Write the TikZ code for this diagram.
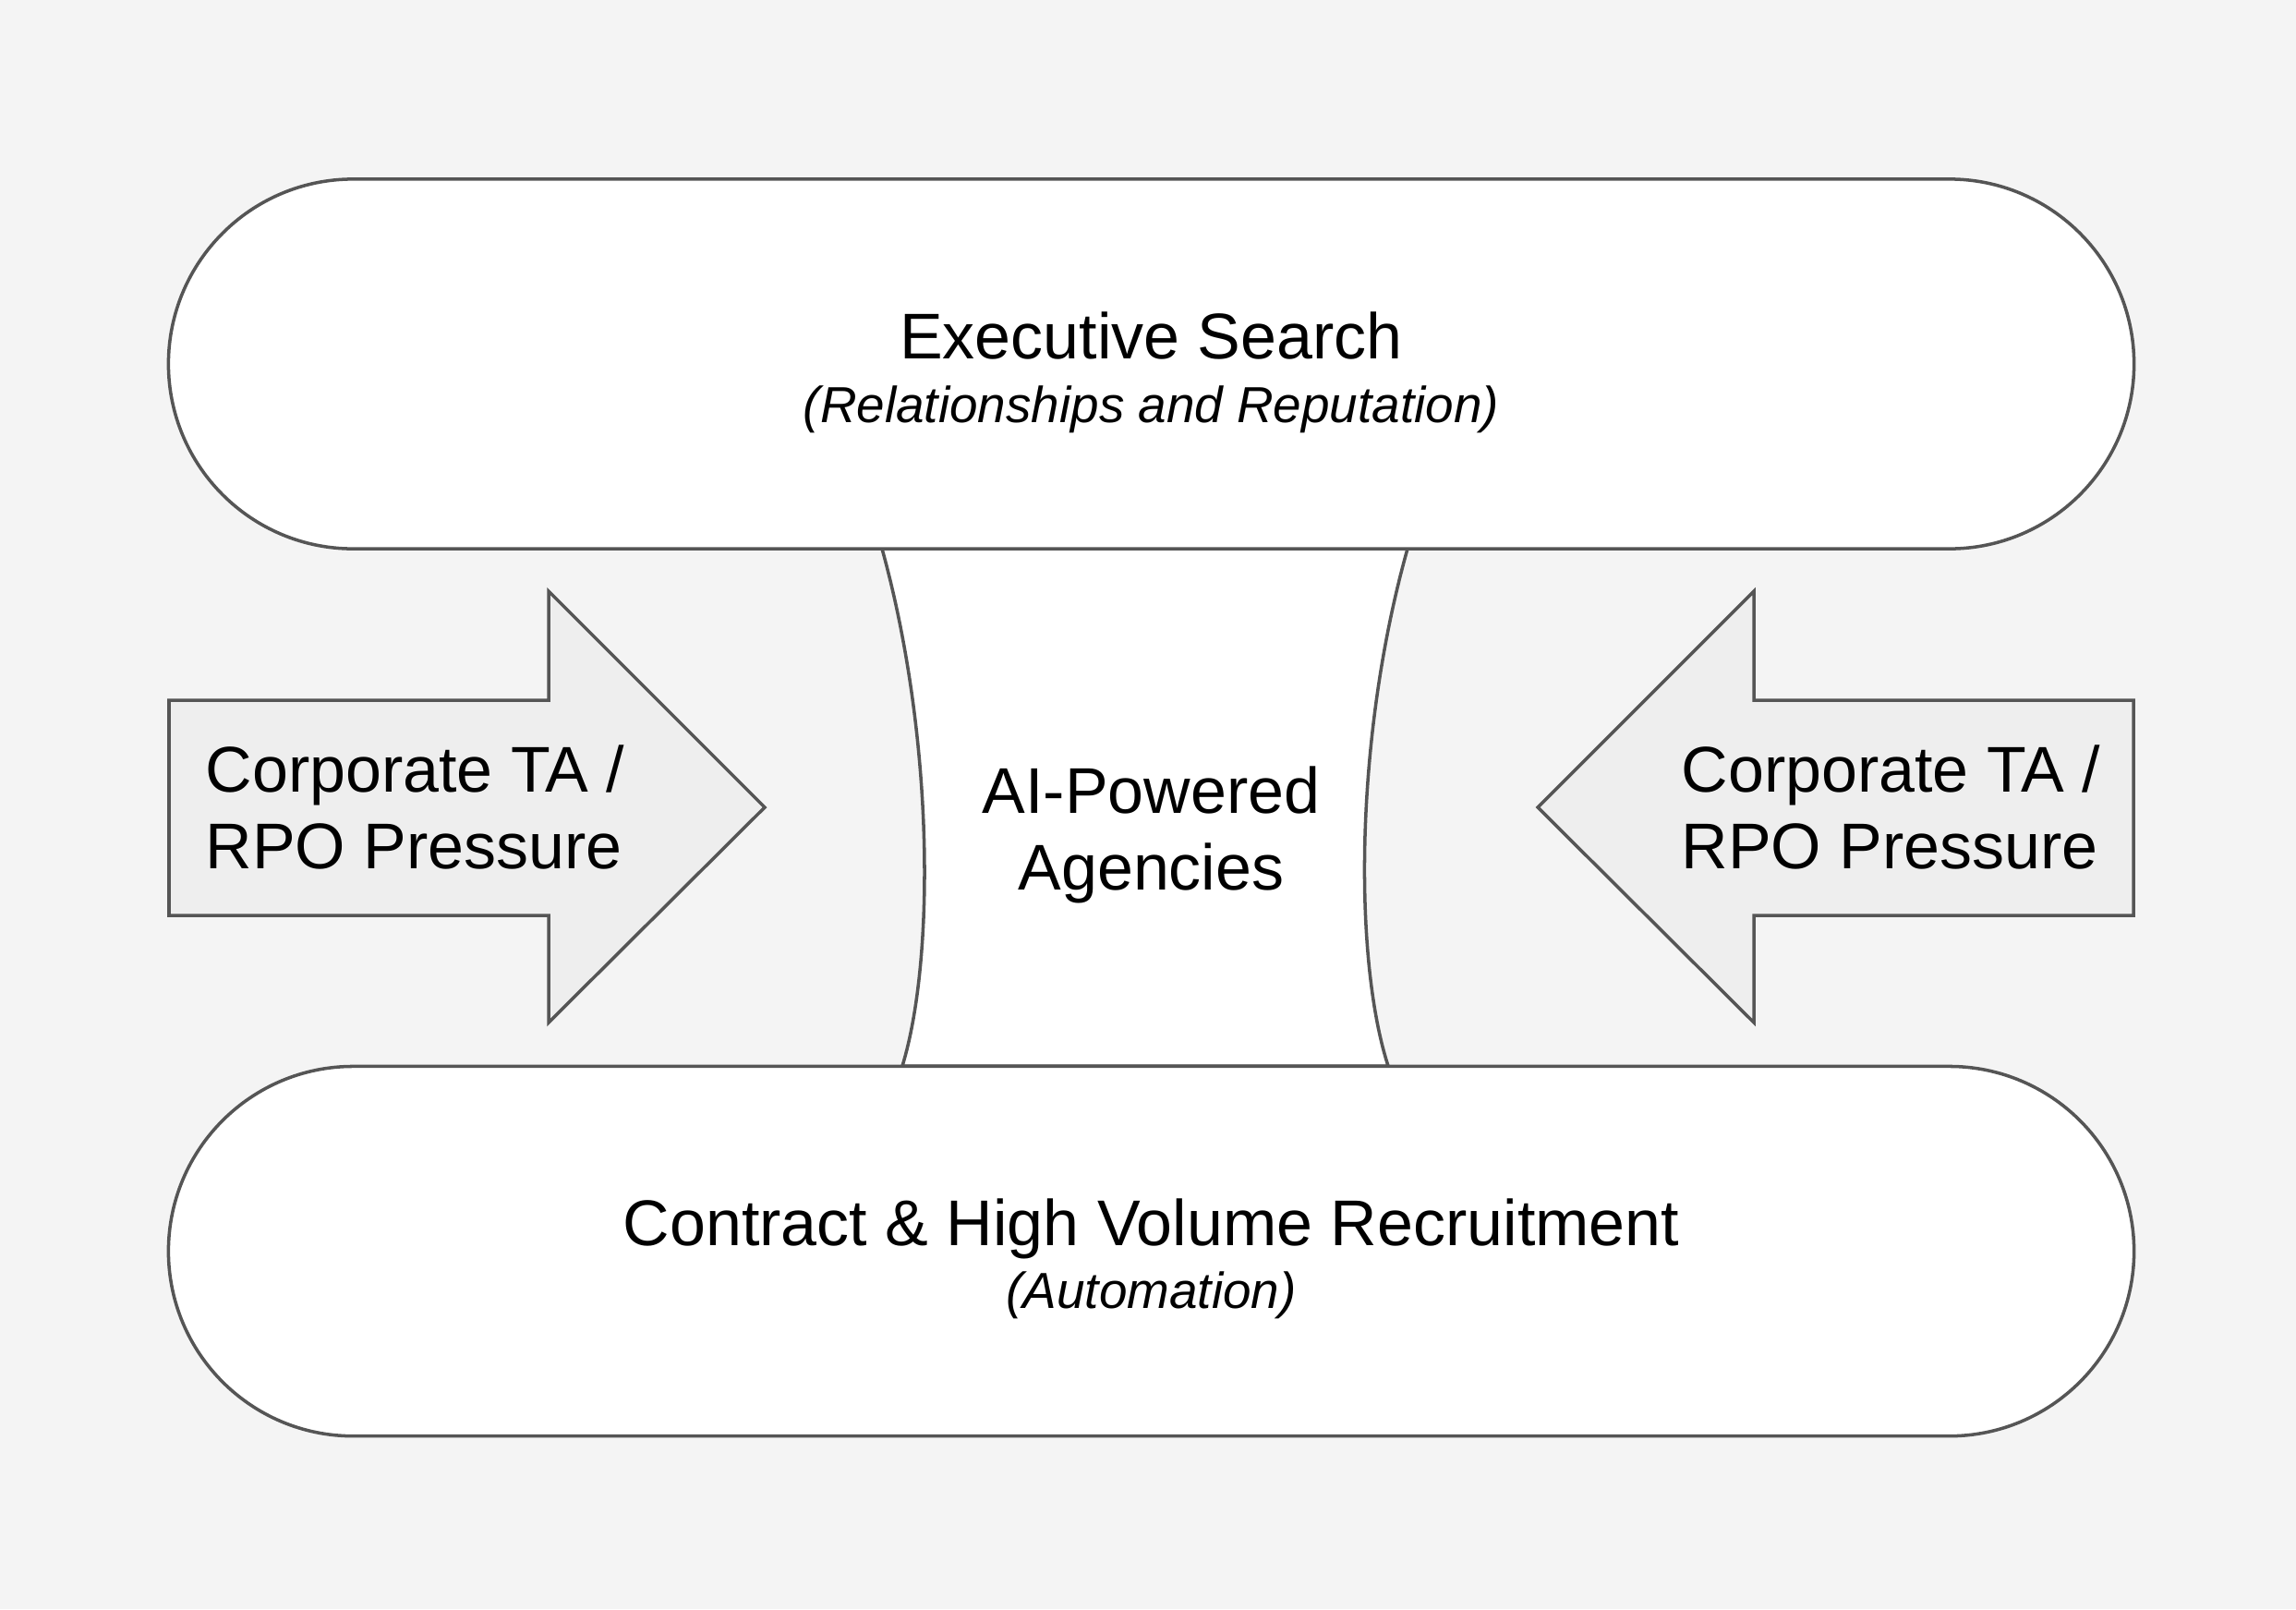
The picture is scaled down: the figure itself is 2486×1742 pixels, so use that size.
\documentclass[tikz,border=0pt]{standalone}
\usepackage{fontspec}
\setmainfont{Liberation Sans}
\usepackage{xcolor}
\usetikzlibrary{positioning}
\definecolor{bgcol}{HTML}{F4F4F4}
\definecolor{edgecol}{HTML}{555555}
\definecolor{pushfill}{HTML}{EEEEEE}
\tikzset{
  pill/.style={draw=edgecol, fill=white, line width=1pt, rounded corners=2cm,
    minimum width=21.27cm, minimum height=4cm, inner sep=0pt, outer sep=0pt},
  pushshape/.style={draw=edgecol, fill=pushfill, line width=1pt, line join=miter},
  bigtext/.style={font=\fontsize{19.9}{23.6}\selectfont},
  subtext/.style={font=\fontsize{15.6}{18.7}\selectfont\itshape},
}
\begin{document}
\begin{tikzpicture}[x=0.01cm, y=-0.01cm]

\fill[bgcol] (0,0) rectangle (2486,1742);
\useasboundingbox (0,0) rectangle (2486,1742);

% MIDDLE: squeezed band between the two pills
\draw[pushshape, fill=white]
  (955,594) .. controls (1012,800) and (1012,1040) .. (977,1154)
  -- (1503,1154) .. controls (1466,1040) and (1466,800) .. (1524,594) -- cycle;

% TOP and BOTTOM pills
\node[pill] (exec) at (1246.5,394) {};
\node[pill, below=5.6cm of exec] (volume) {};

% LEFT and RIGHT pressure arrows
\draw[pushshape]
  (183,758) -- (594,758) -- (594,640) -- (828,874)
  -- (594,1107) -- (594,991) -- (183,991) -- cycle;
\draw[pushshape]
  (2310,758) -- (1899,758) -- (1899,640) -- (1665,874)
  -- (1899,1107) -- (1899,991) -- (2310,991) -- cycle;

% labels (base of a two-line node = last line)
\node[bigtext, anchor=base] (exectitle) at (1246.5,388) {Executive Search};
\node[subtext, anchor=base] (execsub) at (1246.5,457) {(Relationships and Reputation)};
\node[bigtext, anchor=base] (voltitle) at (1246.5,1348) {Contract \& High Volume Recruitment};
\node[subtext, anchor=base] (volsub) at (1246.5,1416) {(Automation)};
\node[bigtext, align=center, anchor=base] (agency) at (1246.5,963) {AI-Powered\\Agencies};
\node[bigtext, align=left, anchor=base west, inner sep=0pt] (leftpush) at (222,940) {Corporate TA /\\RPO Pressure};
\node[bigtext, align=left, anchor=base west, inner sep=0pt] (rightpush) at (1820,940) {Corporate TA /\\RPO Pressure};

\end{tikzpicture}
\end{document}
